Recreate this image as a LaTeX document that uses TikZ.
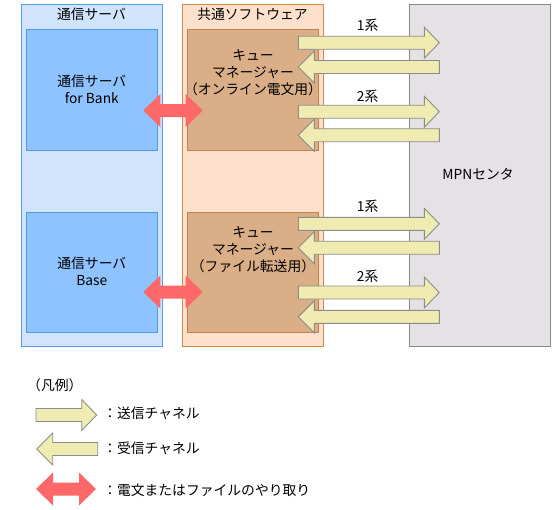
\documentclass[tikz,border=0pt]{standalone}
\usepackage{fontspec}
\setmainfont{Noto Sans CJK JP}
\definecolor{bOF}{RGB}{208,228,252}
\definecolor{bOD}{RGB}{91,155,240}
\definecolor{bIF}{RGB}{143,195,255}
\definecolor{bID}{RGB}{77,155,234}
\definecolor{oOF}{RGB}{253,225,204}
\definecolor{oOD}{RGB}{208,138,80}
\definecolor{brF}{RGB}{218,174,134}
\definecolor{brD}{RGB}{200,128,74}
\definecolor{gF}{RGB}{230,225,229}
\definecolor{gD}{RGB}{136,136,136}
\definecolor{arY}{RGB}{240,235,176}
\definecolor{arB}{RGB}{140,140,140}
\definecolor{arR}{RGB}{255,104,104}
\newcommand\sendarr[3]{% tail x, tip x, center y
  \draw[yarrow] (#1,#3-6.5) -- (#2-15,#3-6.5) -- (#2-15,#3-15.5) -- (#2,#3)
    -- (#2-15,#3+15.5) -- (#2-15,#3+6.5) -- (#1,#3+6.5) -- cycle;}
\newcommand\recvarr[3]{% tip x, tail x, center y
  \draw[yarrow] (#2,#3-6.5) -- (#1+16,#3-6.5) -- (#1+16,#3-16) -- (#1,#3)
    -- (#1+16,#3+16) -- (#1+16,#3+6.5) -- (#2,#3+6.5) -- cycle;}
\newcommand\dblarr[3]{% left tip x, right tip x, center y
  \fill[arR] (#1,#3) -- (#1+17,#3-16.5) -- (#1+17,#3-6.5) -- (#2-17,#3-6.5)
    -- (#2-17,#3-16.5) -- (#2,#3) -- (#2-17,#3+16.5) -- (#2-17,#3+6.5)
    -- (#1+17,#3+6.5) -- (#1+17,#3+16.5) -- cycle;}
\begin{document}
\begin{tikzpicture}[x=1pt,y=-1pt,
  box/.style={draw, line width=0.9pt, inner sep=0pt, outer sep=0pt, anchor=north west},
  jp/.style={font=\fontsize{13.8}{17}\selectfont, align=center, inner sep=0pt},
  yarrow/.style={fill=arY, draw=arB, line width=0.9pt, line join=miter}]
\useasboundingbox[fill=white] (0,0) rectangle (553,509);
% outer boxes
\node[box, fill=bOF, draw=bOD, minimum width=141pt, minimum height=342.4pt] (srv) at (21,4.3) {};
\node[box, fill=oOF, draw=oOD, minimum width=141pt, minimum height=342.4pt] (sw) at (182.3,4.3) {};
\node[box, fill=gF, draw=gD, minimum width=140.7pt, minimum height=342.4pt] (mpn) at (409.3,4.3) {};
% inner boxes
\node[box, fill=bIF, draw=bID, minimum width=131pt, minimum height=121pt] (bank) at (26.3,29) {};
\node[box, fill=bIF, draw=bID, minimum width=131pt, minimum height=120pt] (base) at (26.3,212.3) {};
\node[box, fill=brF, draw=brD, minimum width=131pt, minimum height=121pt] (qm1) at (187.3,29) {};
\node[box, fill=brF, draw=brD, minimum width=131pt, minimum height=120pt] (qm2) at (187.3,212.3) {};
% titles and texts
\node[jp] (t1) at (91.5,14) {通信サーバ};
\node[jp] (t2) at (252.5,14) {共通ソフトウェア};
\node[jp] (t3) at (478,174) {MPNセンタ};
\node[jp] (t4) at (91.8,89) {通信サーバ\\for Bank};
\node[jp] (t5) at (91.8,271.5) {通信サーバ\\Base};
\node[jp] (t6) at (253,73) {キュー\\マネージャー\\（オンライン電文用）};
\node[jp] (t7) at (253,250) {キュー\\マネージャー\\（ファイル転送用）};
% channel labels
\node[jp] (l1) at (367.7,25.7) {1系};
\node[jp] (l2) at (367.7,96) {2系};
\node[jp] (l3) at (367.7,206.7) {1系};
\node[jp] (l4) at (367.7,276) {2系};
% channel arrows
\sendarr{298.3}{439.3}{42.7}
\recvarr{298.3}{439.3}{67}
\sendarr{298.3}{439.3}{111.7}
\recvarr{298.3}{439.3}{135.2}
\sendarr{298.3}{439.3}{223.8}
\recvarr{298.3}{439.3}{247.7}
\sendarr{298.3}{439.3}{292.5}
\recvarr{298.3}{439.3}{316.8}
% exchange arrows
\dblarr{143.3}{202.7}{110.5}
\dblarr{143.3}{202.7}{292}
% legend
\node[jp, anchor=west] (lg) at (27,385) {（凡例）};
\sendarr{36}{96.7}{415}
\recvarr{36.7}{97.7}{449}
\dblarr{36}{96}{489}
\node[jp, anchor=west] (lg1) at (103,413.5) {：送信チャネル};
\node[jp, anchor=west] (lg2) at (103,448.5) {：受信チャネル};
\node[jp, anchor=west] (lg3) at (103,490) {：電文またはファイルのやり取り};
\end{tikzpicture}
\end{document}
